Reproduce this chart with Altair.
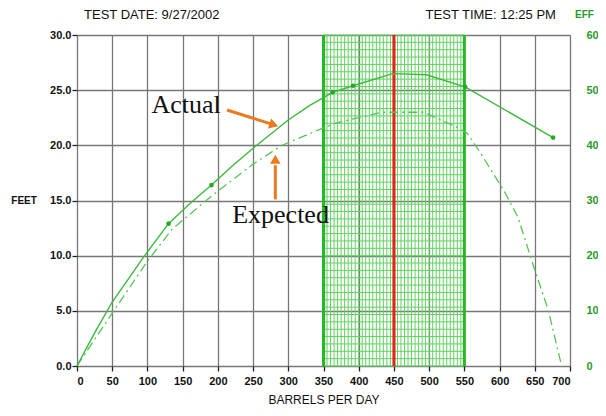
import altair as alt
import pandas as pd
import numpy as np

# ---- data ----
actual_x = [0, 25, 50, 96, 130, 160, 191, 220, 253, 300, 330, 363, 392, 448, 496, 551, 676]
actual_y = [0, 3.0, 5.8, 10.0, 12.9, 14.7, 16.4, 18.1, 19.9, 22.3, 23.6, 24.8, 25.4, 26.5, 26.4, 25.3, 20.7]
point_x = [130, 191, 363, 392, 551, 676]
point_y = [12.9, 16.4, 24.8, 25.4, 25.3, 20.7]
expected_x = [0, 50, 100, 135, 189, 250, 291, 343, 366, 433, 492, 541, 554, 570, 607, 626, 650, 669, 687]
expected_y = [0, 4.8, 9.5, 12.4, 15.3, 18.3, 20.0, 21.4, 22.0, 23.0, 23.0, 21.6, 21.1, 19.6, 15.8, 13.5, 8.7, 5.1, 0.3]
x_ticks = list(range(0, 701, 50))
y_ticks = [0, 5, 10, 15, 20, 25, 30]
band_lo, band_hi, band_mid = 350, 550, 450

FONT = "Liberation Sans, Arial, sans-serif"
GREEN = "#3cb93c"
ORANGE = "#ea7a22"

X = alt.X("x:Q", scale=alt.Scale(domain=[0, 700], nice=False),
          axis=alt.Axis(values=x_ticks, grid=True, gridColor="#777", gridWidth=1.3,
                        tickSize=5, tickColor="#222", tickWidth=1.3, domain=False,
                        labelFont=FONT, labelFontWeight="bold", labelFontSize=11,
                        labelColor="#111", labelPadding=4,
                        title="BARRELS PER DAY", titleFont=FONT, titleFontWeight="normal",
                        titleFontSize=12, titleColor="#111", titlePadding=8))
YS = alt.Scale(domain=[0, 30], nice=False)
Y_left = alt.Y("y:Q", scale=YS,
               axis=alt.Axis(values=y_ticks, format=".1f", grid=True, gridColor="#777",
                             gridWidth=1.3, tickSize=5, tickColor="#222", tickWidth=1.3,
                             domain=False, labelFont=FONT, labelFontWeight="bold",
                             labelFontSize=11, labelColor="#111", labelPadding=1, title=None))
Y_right = alt.Y("y:Q", scale=YS,
                axis=alt.Axis(orient="right", values=y_ticks, labelExpr="format(datum.value*2,'d')",
                              grid=False, ticks=False, domain=False, labelFont=FONT,
                              labelFontWeight="bold", labelFontSize=11, labelColor="#2a9a2a",
                              labelPadding=16, title=None))
Y_none = alt.Y("y:Q", scale=YS, axis=None)

# green band grid
vx = [float(v) for v in np.arange(band_lo, band_hi + 0.1, 5)]
hy = [float(v) for v in np.arange(0, 30.01, 2 / 3)]
vlines = alt.Chart(pd.DataFrame({"x": vx, "y": [0] * len(vx), "y2": [30] * len(vx)})).mark_rule(
    color="#5fd35f", strokeWidth=1).encode(x=X, y=Y_none, y2="y2:Q")
hlines = alt.Chart(pd.DataFrame({"x": [band_lo] * len(hy), "x2": [band_hi] * len(hy), "y": hy})).mark_rule(
    color="#5fd35f", strokeWidth=1).encode(x=X, x2="x2:Q", y=Y_none)
edges = alt.Chart(pd.DataFrame({"x": [band_lo, band_hi], "y": [0, 0], "y2": [30, 30]})).mark_rule(
    color="#22bb22", strokeWidth=3).encode(x=X, y=Y_none, y2="y2:Q")
red = alt.Chart(pd.DataFrame({"x": [band_mid], "y": [0], "y2": [30]})).mark_rule(
    color="#e8201a", strokeWidth=3).encode(x=X, y=Y_none, y2="y2:Q")

actual = alt.Chart(pd.DataFrame({"x": actual_x, "y": actual_y})).mark_line(
    color=GREEN, strokeWidth=1.4).encode(x=X, y=Y_left)
expected = alt.Chart(pd.DataFrame({"x": expected_x, "y": expected_y})).mark_line(
    color="#55c455", strokeWidth=1.3, strokeDash=[9, 4, 2, 4]).encode(x=X, y=Y_none)
pts = alt.Chart(pd.DataFrame({"x": point_x, "y": point_y})).mark_point(
    color="#22aa22", filled=True, size=22, opacity=1).encode(x=X, y=Y_right)

# annotations
labels = alt.Chart(pd.DataFrame({"x": [155, 289], "y": [23.66, 13.7], "t": ["Actual", "Expected"]})).mark_text(
    font="Liberation Serif, DejaVu Serif, serif", fontSize=26, color="#111").encode(x=X, y=Y_none, text="t:N")
arrow_lines = alt.Chart(pd.DataFrame({"x": [213, 275, 281.6, 281.6], "y": [23.2, 21.95, 15.1, 18.2],
                                      "g": ["a", "a", "e", "e"]})).mark_line(
    color=ORANGE, strokeWidth=3).encode(x=X, y=Y_none, detail="g:N")
heads = alt.Chart(pd.DataFrame({"x": [277.5, 281.6], "y": [21.9, 18.6], "ang": [107, 0]})).mark_point(
    shape="triangle", filled=True, color=ORANGE, size=110, opacity=1).encode(
    x=X, y=Y_none, angle=alt.Angle("ang:Q", scale=None))

header = alt.Chart(pd.DataFrame({"x": [10, 680], "y": [31.8, 31.8], "t": ["TEST DATE: 9/27/2002", "TEST TIME:  12:25 PM"],
                                 "al": ["left", "right"]}))
h1 = header.transform_filter("datum.al == 'left'").mark_text(
    font=FONT, fontSize=13, color="#111", align="left").encode(x=X, y=Y_none, text="t:N")
h2 = header.transform_filter("datum.al == 'right'").mark_text(
    font=FONT, fontSize=13, color="#111", align="right").encode(x=X, y=Y_none, text="t:N")
eff = alt.Chart(pd.DataFrame({"x": [734], "y": [31.8], "t": ["EFF"]})).mark_text(
    font=FONT, fontSize=10, fontWeight="bold", color="#2a9a2a", align="right").encode(x=X, y=Y_none, text="t:N")
feet = alt.Chart(pd.DataFrame({"x": [-57], "y": [15], "t": ["FEET"]})).mark_text(
    font=FONT, fontSize=10, fontWeight="bold", color="#111", align="right").encode(x=X, y=Y_none, text="t:N")

chart = alt.layer(vlines, hlines, edges, red, expected, actual, pts, arrow_lines, heads, labels,
                  h1, h2, eff, feet).resolve_axis(y="independent").properties(
    width=493, height=331,
    autosize=alt.AutoSizeParams(type="none"),
    padding={"left": 69, "top": 27, "right": 28, "bottom": 42},
).configure_view(stroke="#333", strokeWidth=1.5).configure(background="white")

chart.save("out.html", embed_options={"renderer": "svg", "actions": False})
